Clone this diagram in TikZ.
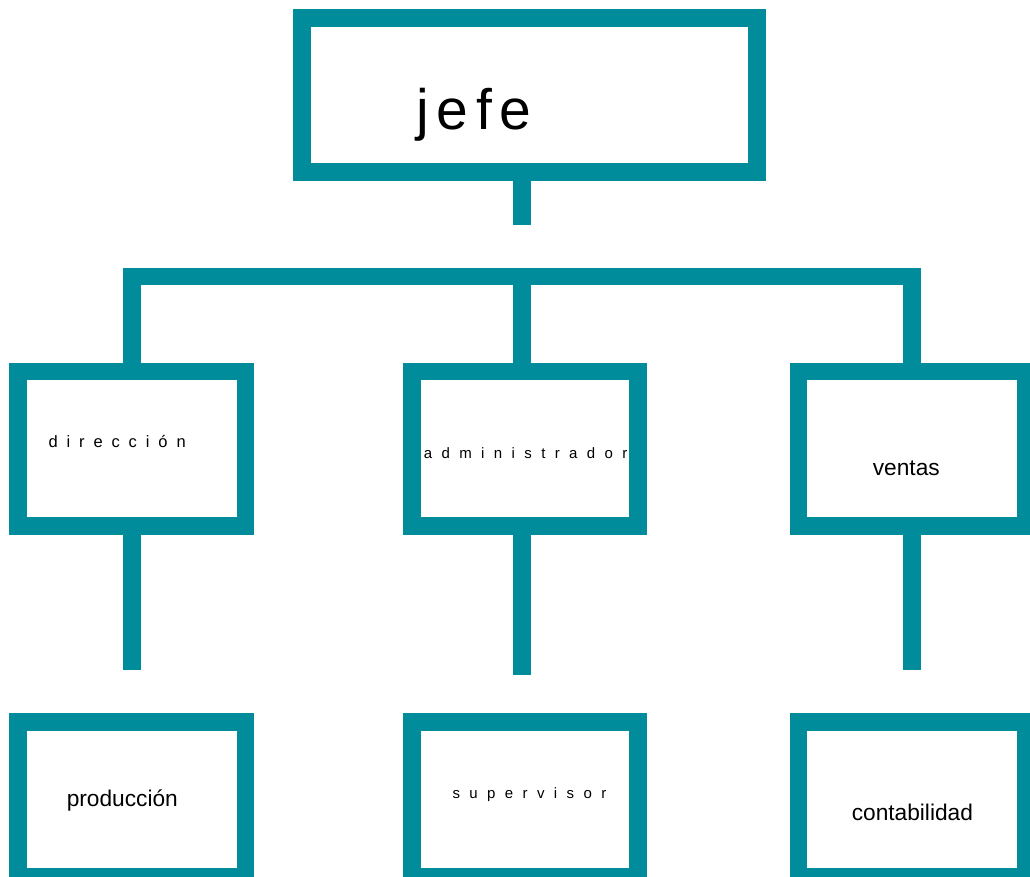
\documentclass[tikz,border=0pt]{standalone}
\usepackage{fontspec}
\setmainfont{Liberation Sans}
\definecolor{teal1}{HTML}{008C9B}
\begin{document}
\begin{tikzpicture}[x=1pt,y=-1pt,
  orgbox/.style={draw=teal1,line width=17.6pt,rectangle,inner sep=0pt,outer sep=0pt,fill=white,line join=miter},
  bigbox/.style={orgbox,minimum width=454.7pt,minimum height=154.3pt},
  midbox/.style={orgbox,minimum width=227.4pt,minimum height=154.4pt},
  link/.style={draw=teal1,line width=17.5pt,line cap=butt,line join=miter},
  lbl/.style={inner sep=0pt,outer sep=0pt,anchor=base west,text=black},
  spaced/.style={lbl,font={\fontsize{#1}{#1}\selectfont\spaceskip=9.4pt\relax}},
  plain/.style={lbl,font={\fontsize{22.7}{24}\selectfont}}]
\useasboundingbox (0,0) rectangle (1030,877);
\fill[white] (0,0) rectangle (1030,877);

% boxes
\node[bigbox] (jefe) at (529.5,95) {};
\node[midbox] (dir) at (131.8,448.5) {};
\node[midbox,minimum width=226.3pt] (adm) at (525.1,448.5) {};
\node[midbox] (ven) at (912.1,448.5) {};
\node[midbox,minimum height=155pt] (pro) at (131.8,799.65) {};
\node[midbox,minimum width=226.3pt,minimum height=155pt] (sup) at (525.1,799.65) {};
\node[midbox,minimum height=155pt] (con) at (912.1,799.65) {};

% coordinates
\coordinate (j0) at (522,181);
\coordinate (j1) at (522,225.3);
\coordinate (bl) at (132,276.7);
\coordinate (bm) at (522,276.7);
\coordinate (br) at (912,276.7);
\coordinate (dt) at (132,362.6);
\coordinate (at) at (522,362.6);
\coordinate (vt) at (912,362.6);
\coordinate (db) at (132,534.3);
\coordinate (ab) at (522,534.3);
\coordinate (vb) at (912,534.3);
\coordinate (de) at (132,669.7);
\coordinate (ae) at (522,675.3);
\coordinate (ve) at (912,669.7);

% connectors
\draw[link] (j0) -- (j1);
\draw[link] (dt) -- (bl) -- (br) -- (vt);
\draw[link] (bm) -- (at);
\draw[link] (db) -- (de);
\draw[link] (ab) -- (ae);
\draw[link] (vb) -- (ve);

% labels
\node[lbl,font={\fontsize{57}{60}\selectfont\spaceskip=7.6pt\relax}] (tj) at (416.5,130) {j e f e};
\node[spaced=17,font={\fontsize{16.5}{18}\selectfont\spaceskip=8.9pt\relax}] (td) at (48.5,447) {d i r e c c i ó n};
\node[spaced=15] (ta) at (423.8,458.3) {a d m i n i s t r a d o r};
\node[plain,anchor=base] (tv) at (906.3,475.7) {ventas};
\node[plain] (tp) at (66.8,806.7) {producción};
\node[spaced=15] (ts) at (452.5,798.3) {s u p e r v i s o r};
\node[plain] (tc) at (851.8,820) {contabilidad};
\end{tikzpicture}
\end{document}
